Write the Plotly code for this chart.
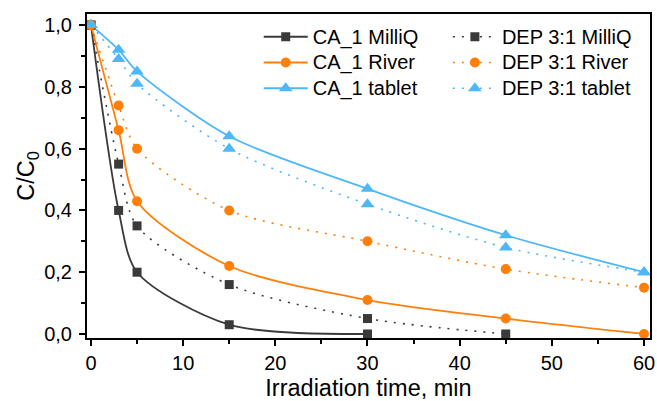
import plotly.graph_objects as go

t_ca_milliq = [0, 3, 5, 15, 30]
ca_milliq = [1.0, 0.40, 0.20, 0.03, 0.0]
t_dep_milliq = [0, 3, 5, 15, 30, 45]
dep_milliq = [1.0, 0.55, 0.35, 0.16, 0.05, 0.0]
t_full = [0, 3, 5, 15, 30, 45, 60]
ca_river = [1.0, 0.66, 0.43, 0.22, 0.11, 0.05, 0.0]
dep_river = [1.0, 0.74, 0.60, 0.40, 0.30, 0.21, 0.15]
ca_tablet = [1.0, 0.92, 0.85, 0.64, 0.47, 0.32, 0.20]
dep_tablet = [1.0, 0.89, 0.81, 0.60, 0.42, 0.28, 0.20]

BLACK = "#3a3a3a"
ORANGE = "#ff7f0a"
BLUE = "#4db8f8"

fig = go.Figure()

def add(x, y, name, color, symbol, msize, dash, width, legend):
    fig.add_trace(go.Scatter(
        x=x, y=y, name='<span style="font-size:20px">' + name + '</span>',
        mode="lines+markers",
        line=dict(color=color, width=width, dash=dash, shape="spline", smoothing=0.8),
        marker=dict(color=color, symbol=symbol, size=msize),
        legend=legend,
    ))

DOT = "2px,7px"
add(t_ca_milliq, ca_milliq, "CA_1 MilliQ", BLACK, "square", 9, "solid", 1.8, "legend")
add(t_full, ca_river, "CA_1 River", ORANGE, "circle", 10, "solid", 1.8, "legend")
add(t_full, ca_tablet, "CA_1 tablet", BLUE, "triangle-up", 12, "solid", 1.8, "legend")
add(t_dep_milliq, dep_milliq, "DEP 3:1 MilliQ", BLACK, "square", 9, DOT, 1.6, "legend2")
add(t_full, dep_river, "DEP 3:1 River", ORANGE, "circle", 10, DOT, 1.6, "legend2")
add(t_full, dep_tablet, "DEP 3:1 tablet", BLUE, "triangle-up", 12, DOT, 1.6, "legend2")

FAM = "Liberation Sans, Arial, sans-serif"
tickfont = dict(family=FAM, size=20, color="#000")
legfont = dict(family=FAM, size=17.5, color="#000")
titlefont = dict(family=FAM, size=23.5, color="#000")

fig.update_layout(
    width=657, height=401,
    margin=dict(l=87, r=7, t=14, b=63),
    plot_bgcolor="white", paper_bgcolor="white",
    separators=", ",
    font=dict(family=FAM, size=20, color="#000"),
    showlegend=True,
    legend=dict(x=0.305, y=0.985, xanchor="left", yanchor="top", font=legfont,
                bgcolor="rgba(0,0,0,0)", tracegroupgap=0, itemwidth=44),
    legend2=dict(x=0.641, y=0.985, xanchor="left", yanchor="top", font=legfont,
                 bgcolor="rgba(0,0,0,0)", tracegroupgap=0, itemwidth=44),
    xaxis=dict(
        range=[-0.43, 60.65], tickvals=[0, 10, 20, 30, 40, 50, 60],
        ticks="outside", ticklen=6, tickwidth=2, tickcolor="#000",
        minor=dict(dtick=5, tick0=0, ticks="outside", ticklen=4, tickwidth=2, tickcolor="#000"),
        showline=True, linecolor="#000", linewidth=2, mirror=True,
        showgrid=False, zeroline=False, automargin=False,
        title=dict(text="Irradiation time, min", font=titlefont, standoff=7),
        tickfont=tickfont,
    ),
    yaxis=dict(
        range=[-0.013, 1.036], tickvals=[0, 0.2, 0.4, 0.6, 0.8, 1.0], tickformat=".1f",
        ticks="outside", ticklen=6, tickwidth=2, tickcolor="#000",
        minor=dict(dtick=0.1, tick0=0, ticks="outside", ticklen=4, tickwidth=2, tickcolor="#000"),
        showline=True, linecolor="#000", linewidth=2, mirror=True,
        showgrid=False, zeroline=False, ticklabelstandoff=3, automargin=False,
        title=dict(text="C/C<sub>0</sub>", font=titlefont, standoff=3),
        tickfont=tickfont,
    ),
)

fig.write_html("out.html")
